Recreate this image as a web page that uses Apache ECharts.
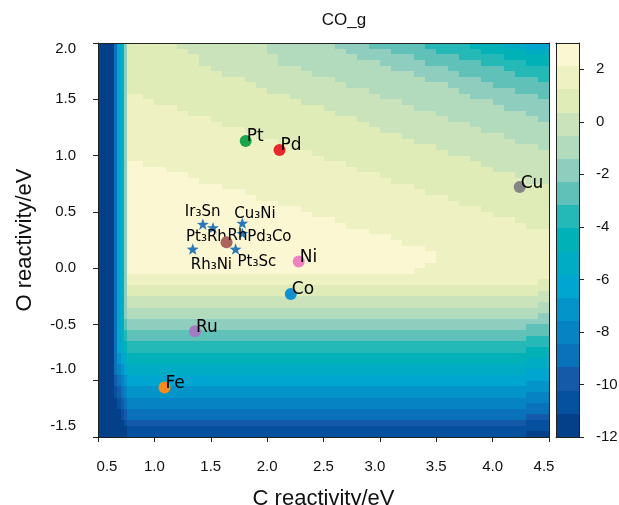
<!DOCTYPE html>
<html><head><meta charset="utf-8">
<script src="https://cdn.jsdelivr.net/npm/echarts@6/dist/echarts.min.js"></script>
<style>html,body{margin:0;padding:0;background:#fff}#c{width:619px;height:505px}</style>
</head><body><div id="c"></div>
<script>
// ---- data ----
// contour field sampled on a grid (cell edges in eV)
const xEdges = [0.5,0.64,0.67,0.70,0.73,0.76,0.8,0.9,1.0,1.1,1.2,1.3,1.4,1.5,1.6,1.7,1.8,1.9,2.0,2.1,2.2,2.3,2.4,2.5,2.6,2.7,2.8,2.9,3.0,3.1,3.2,3.3,3.4,3.5,3.6,3.7,3.8,3.9,4.0,4.1,4.2,4.3,4.4,4.5];
const yEdges = [-1.5,-1.45,-1.4,-1.35,-1.3,-1.25,-1.2,-1.15,-1.1,-1.05,-1.0,-0.95,-0.9,-0.85,-0.8,-0.75,-0.7,-0.65,-0.6,-0.55,-0.5,-0.45,-0.4,-0.35,-0.3,-0.25,-0.2,-0.15,-0.1,-0.05,0.0,0.05,0.1,0.15,0.2,0.25,0.3,0.35,0.4,0.45,0.5,0.55,0.6,0.65,0.7,0.75,0.8,0.85,0.9,0.95,1.0,1.05,1.1,1.15,1.2,1.25,1.3,1.35,1.4,1.45,1.5,1.55,1.6,1.65,1.7,1.75,1.8,1.85,1.9,1.95,2.0];
// contour levels (17 filled bands from -12 to 3)
const levels = [-12,-11.118,-10.235,-9.353,-8.471,-7.588,-6.706,-5.824,-4.941,-4.059,-3.176,-2.294,-1.412,-0.529,0.353,1.235,2.118,3];
// band index per cell (a = lowest band ... q = highest), run-length coded, top row first
const zBandRuns = [
  "a1d1g1i1l1o5n8m6l3k5j4i3h2g2",
  "a1d1g1i1l1o6n7m7l4k4j4i4h2",
  "a1d1g1i1l1o7n7m7l5k4j4i4",
  "a1d1g1i1l1o7n7m9l4k5j4i2",
  "a1d1g1i1l1o8n8m8l5k5j4",
  "a1d1g1i1l1o9n8m9l4k5j3",
  "a1d1g1i1l1o11n8m8l5k5j1",
  "a1d1g1i1l1o12n8m9l4k5",
  "a1d1g1i1l1o13n9m8l5k3",
  "a1d1g1i1l1p2o13n8m8l6k1",
  "a1d1g1i1l1p3o13n9m8l5",
  "a1d1g1i1l1p5o13n8m8l4",
  "a1d1g1i1l1p6o13n9m8l2",
  "a1d1g1i1l1p8o13n8m8l1",
  "a1d1g1i1l1p9o13n9m7",
  "a1d1g1i1l1p11o12n9m6",
  "a1d1g1i1l1p12o13n9m4",
  "a1d1g1i1l1p14o12n9m3",
  "a1d1g1i1l1p15o13n9m1",
  "a1d1g1i1l1p17o12n9",
  "a1d1g1i1l1p18o13n7",
  "a1d1g1i1l1q2p18o12n6",
  "a1d1g1i1l1q4p17o12n5",
  "a1d1g1i1l1q6p17o12n3",
  "a1d1g1i1l1q7p17o12n2",
  "a1d1g1i1l1q9p17o12",
  "a1d1g1i1l1q11p16o11",
  "a1d1g1i1l1q12p17o9",
  "a1d1g1i1l1q14p16o8",
  "a1d1g1i1l1q16p16o6",
  "a1d1g1i1l1q17p16o5",
  "a1d1g1i1l1q19p16o3",
  "a1d1g1i1l1q20p16o2",
  "a1d1g1i1l1q22p16",
  "a1d1g1i1l1q24p14",
  "a1d1g1i1l1q25p13",
  "a1d1g1i1l1q27p11",
  "a1d1g1i1l1q28p10",
  "a1d1g1i1l1q28p10",
  "a1d1g1i1l1q27p11",
  "a1d1g1i1l1q26p12",
  "a1d1g1i1l1p38",
  "a1d1g1i1l1p37o1",
  "a1d1g1i1l1o38",
  "a1d1g1i1l1o37n1",
  "a1d1g1i1l1n38",
  "a1d1g1i1l1n37m1",
  "a1d1g1i1l1m38",
  "a1d1g1i1l1m37l1",
  "a1d1g1i1k1l38",
  "a1d1g1i1k1l36k2",
  "a1d1g1i1j1k38",
  "a1d1g1i1j1k36j2",
  "a1d1g1h1i1j38",
  "a1d1g1h1i1j36i2",
  "a1d1f1g1h1i38",
  "a1d1f1g1h1i36h2",
  "a1d1e1f1g1h38",
  "a1d1e1f1g1h36g2",
  "a1c1d1e1f1g38",
  "a1c1d1e1f1g36f2",
  "a1b1c1d1e1f38",
  "a1b1c1d1e1f36e2",
  "a2b1c1d1e38",
  "a2b1c1d1e36d2",
  "a3b1c1d38",
  "a3b1c1d36c2",
  "a4b1c36b2",
  "a5b38",
  "a5b36a2"
];
// metals
const metalNames = ["Pt","Pd","Cu","Ni","Co","Ru","Fe","Rh"];
const metalX = [1.81, 2.11, 4.24, 2.28, 2.21, 1.36, 1.09, 1.64];
const metalY = [1.13, 1.05, 0.72, 0.06, -0.23, -0.56, -1.06, 0.23];
// alloys
const alloyNames = ["Ir₃Sn","Pt₃Rh","Cu₃Ni","Pd₃Co","Rh₃Ni","Pt₃Sc"];
const alloyX = [1.43, 1.52, 1.78, 1.78, 1.34, 1.72];
const alloyY = [0.39, 0.36, 0.40, 0.31, 0.17, 0.17];
// tick labels
const cbTicks = [-12,-10,-8,-6,-4,-2,0,2];

// ---- styles ----
const bandColors = ['#034089','#0650a0','#155aa8','#0a72ba','#0683c2','#0394ca','#00a6d0','#00acc4','#00b2b8','#24b8b6','#5fc1b7','#8fcebe','#b2dbbe','#cbe3bb','#e0ecb8','#eef2c2','#fbf7d2'];
const metalColors = ['#1ba54b','#e8282a','#858585','#ee82c3','#1390d0','#a27bc2','#fb8a1a','#aa6459'];
const metalLabelOffset = [[1,-4],[1,-4],[1,-4],[1,-4],[1,-4],[1,-4],[1,-4],[1,-6]];
const metalLabelSize = [17,17,17,17,17,17,17,15];
const alloyLabelOffset = [[-18,-12],[-27,9],[-8,-9],[5,3.5],[-2,16],[2,13]];
const AX = '#222';
const SANS = 'Liberation Sans, Arial, sans-serif';
const DJV = 'DejaVu Sans, sans-serif';

// ---- build ----
const fieldData = [];
zBandRuns.forEach((row, r) => {
  const yi = yEdges.length - 2 - r;
  let xi = 0;
  row.replace(/([a-q])(\d+)/g, (m, ch, n) => {
    const k = ch.charCodeAt(0) - 97;
    for (let j = 0; j < +n; j++) fieldData.push([xi++, yi, (levels[k] + levels[k+1]) / 2]);
    return m;
  });
  if (xi !== xEdges.length - 1) throw new Error('row ' + r + ' has ' + xi + ' cells');
});
if (zBandRuns.length !== yEdges.length - 1) throw new Error('rows ' + zBandRuns.length);
const cbData = [];
for (let k = 0; k < levels.length - 1; k++) cbData.push([k, k, (levels[k] + levels[k+1]) / 2]);

const pieces = bandColors.map((c, k) => ({gte: levels[k], lt: levels[k+1], color: c}));

const chart = echarts.init(document.getElementById('c'), null, {renderer: 'canvas'});

function cellRect(x0v, x1v, y0v, y1v, api) {
  const p0 = api.coord([x0v, y1v]);
  const p1 = api.coord([x1v, y0v]);
  const x0 = Math.round(p0[0]), y0 = Math.round(p0[1]);
  const x1 = Math.round(p1[0]), y1 = Math.round(p1[1]);
  return {type: 'rect', shape: {x: x0, y: y0, width: x1 - x0, height: y1 - y0},
          style: {fill: api.visual('color')}};
}

const starPath = 'path://M0,-10L2.35,-3.24L9.51,-3.09L3.8,1.24L5.88,8.09L0,4L-5.88,8.09L-3.8,1.24L-9.51,-3.09L-2.35,-3.24Z';

const lineOnly = (extra) => Object.assign({
  type: 'value', z: 10, axisLine: {show: true, onZero: false, lineStyle: {color: AX, width: 1}},
  axisTick: {show: false}, axisLabel: {show: false}, splitLine: {show: false}
}, extra);

const option = {
  animation: false,
  backgroundColor: '#fff',
  title: {text: 'CO_g', left: 339, top: 7, textAlign: 'center',
          textStyle: {fontSize: 17, fontWeight: 'normal', color: '#111', fontFamily: SANS}},
  grid: [
    {left: 98, top: 43, width: 451, height: 394, outerBoundsMode: 'none'},
    {left: 556, top: 43, width: 23, height: 394, outerBoundsMode: 'none'}
  ],
  xAxis: [
    {type: 'value', gridIndex: 0, min: 0.5, max: 4.5, interval: 0.5, position: 'bottom', z: 10,
     axisLine: {show: true, onZero: false, lineStyle: {color: AX, width: 1}},
     axisTick: {show: true, inside: false, length: 5, lineStyle: {color: AX}},
     axisLabel: {fontSize: 15, color: '#111', fontFamily: SANS, margin: 22,
       formatter: v => {
         const s = v.toFixed(1);
         if (Math.abs(v - 0.5) < 1e-6) return '{r|' + s + '}';
         if (Math.abs(v - 3.0) < 1e-6 || Math.abs(v - 4.5) < 1e-6) return '{l|' + s + '}';
         return s;
       },
       rich: {r: {fontSize: 15, fontFamily: SANS, color: '#111', padding: [0, 0, 0, 18]},
              l: {fontSize: 15, fontFamily: SANS, color: '#111', padding: [0, 10, 0, 0]}}},
     splitLine: {show: false},
     name: 'C reactivity/eV', nameLocation: 'middle', nameGap: 51,
     nameTextStyle: {fontSize: 22, color: '#111', fontFamily: SANS}},
    lineOnly({gridIndex: 0, min: 0.5, max: 4.5, position: 'top'}),
    lineOnly({gridIndex: 1, min: 0, max: 1, position: 'bottom'}),
    lineOnly({gridIndex: 1, min: 0, max: 1, position: 'top'})
  ],
  yAxis: [
    {type: 'value', gridIndex: 0, min: -1.5, max: 2.0, interval: 0.5, position: 'left', z: 10,
     axisLine: {show: true, onZero: false, lineStyle: {color: AX, width: 1}},
     axisTick: {show: true, inside: false, length: 5, lineStyle: {color: AX}},
     axisLabel: {fontSize: 15, color: '#111', fontFamily: SANS, margin: 22,
       formatter: v => {
         const s = v.toFixed(1);
         if (Math.abs(v - 2.0) < 1e-6) return '{d|' + s + '}';
         if (Math.abs(v + 1.0) < 1e-6 || Math.abs(v + 1.5) < 1e-6) return '{u|' + s + '}';
         return s;
       },
       rich: {d: {fontSize: 15, fontFamily: SANS, color: '#111', padding: [12, 0, 0, 0]},
              u: {fontSize: 15, fontFamily: SANS, color: '#111', padding: [0, 0, 23, 0]}}},
     splitLine: {show: false},
     name: 'O reactivity/eV', nameLocation: 'middle', nameGap: 62,
     nameTextStyle: {fontSize: 22, color: '#111', fontFamily: SANS}},
    lineOnly({gridIndex: 0, min: -1.5, max: 2.0, position: 'right'}),
    {type: 'value', gridIndex: 1, min: -12, max: 3, position: 'right', z: 10,
     axisLine: {show: true, onZero: false, lineStyle: {color: AX, width: 1}},
     axisTick: {show: true, inside: false, length: 5, lineStyle: {color: AX}, customValues: cbTicks},
     axisLabel: {fontSize: 15, color: '#111', fontFamily: SANS, margin: 17, customValues: cbTicks,
                 formatter: v => (v === 3 ? '' : String(v))},
     splitLine: {show: false}},
    lineOnly({gridIndex: 1, min: -12, max: 3, position: 'left'})
  ],
  visualMap: {type: 'piecewise', show: false, dimension: 2, seriesIndex: [0, 1], pieces: pieces},
  series: [
    {type: 'custom', xAxisIndex: 0, yAxisIndex: 0, z: 1, data: fieldData, clip: true,
     dimensions: ['xi', 'yi', 'z'], encode: {x: 'xi', y: 'yi'}, progressive: 0, silent: true,
     renderItem: (params, api) => {
       const xi = api.value(0), yi = api.value(1);
       return cellRect(xEdges[xi], xEdges[xi+1], yEdges[yi], yEdges[yi+1], api);
     }},
    {type: 'custom', xAxisIndex: 2, yAxisIndex: 2, z: 1, data: cbData, silent: true,
     dimensions: ['k', 'kk', 'z'], encode: {x: 'k', y: 'kk'},
     renderItem: (params, api) => {
       const k = api.value(0);
       return cellRect(0, 1, levels[k], levels[k+1], api);
     }},
    {type: 'scatter', xAxisIndex: 0, yAxisIndex: 0, z: 5, symbol: starPath, symbolSize: 12, symbolKeepAspect: true,
     itemStyle: {color: '#2a78b8', opacity: 1},
     data: alloyNames.map((n, i) => ({name: n, value: [alloyX[i], alloyY[i]],
       label: {show: true, formatter: '{b}', position: 'inside', offset: alloyLabelOffset[i],
               align: 'left', verticalAlign: 'middle', fontSize: 15, fontFamily: DJV, color: '#000'}}))},
    {type: 'scatter', xAxisIndex: 0, yAxisIndex: 0, z: 6, symbol: 'circle', symbolSize: 12,
     data: metalNames.map((n, i) => ({name: n, value: [metalX[i], metalY[i]],
       itemStyle: {color: metalColors[i], opacity: 1},
       label: {show: true, formatter: '{b}', position: 'inside', offset: metalLabelOffset[i],
               align: 'left', verticalAlign: 'middle',
               fontSize: metalLabelSize[i], fontFamily: DJV, color: '#000'}}))}
  ]
};
chart.setOption(option);
</script>
</body></html>
